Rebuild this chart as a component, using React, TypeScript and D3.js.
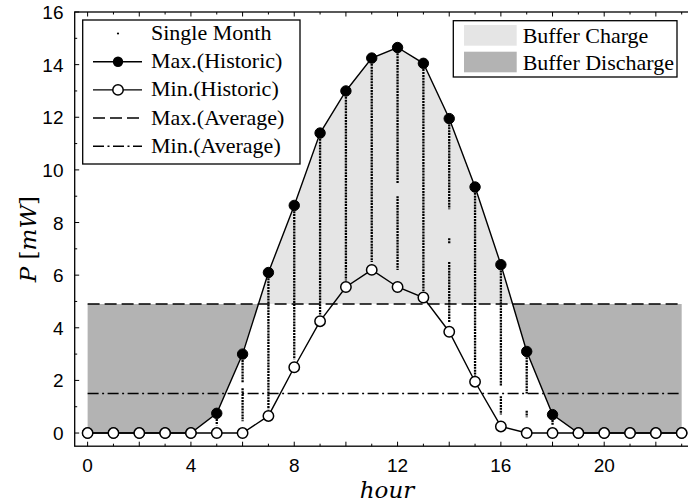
import React from 'react';
import * as d3 from 'd3';

// Hour of day (x categories)
const hours = [0, 1, 2, 3, 4, 5, 6, 7, 8, 9, 10, 11, 12, 13, 14, 15, 16, 17, 18, 19, 20, 21, 22, 23];
// Historic extremes of harvested power, mW
const maxHistoric = [0, 0, 0, 0, 0, 0.75, 3.0, 6.1, 8.65, 11.4, 13.0, 14.25, 14.65, 14.05, 11.95, 9.35, 6.4, 3.1, 0.7, 0, 0, 0, 0, 0];
const minHistoric = [0, 0, 0, 0, 0, 0, 0, 0.65, 2.5, 4.25, 5.55, 6.2, 5.55, 5.15, 3.85, 1.95, 0.25, 0, 0, 0, 0, 0, 0, 0];
// Average levels, mW
const maxAverage = 4.9;
const minAverage = 1.5;
// Single-month samples: hour and the value runs where monthly samples fall
const monthHours = [5, 6, 7, 8, 9, 10, 11, 12, 13, 14, 15, 16, 17, 18];
const monthRuns: number[][][] = [
  [[0.3, 0.75]],
  [[0.45, 1.7], [1.9, 3.0]],
  [[0.9, 6.1]],
  [[2.8, 8.65]],
  [[4.5, 11.4]],
  [[5.8, 13.0]],
  [[6.5, 14.25]],
  [[6.2, 9.0], [9.5, 14.65]],
  [[5.4, 14.05]],
  [[4.2, 6.5], [7.2, 7.4], [8.5, 11.95]],
  [[2.1, 9.35]],
  [[0.7, 1.4], [1.8, 6.4]],
  [[0.6, 0.85], [1.5, 3.1]],
  [[0.3, 0.5]],
];
const xTickLabels = [0, 4, 8, 12, 16, 20];
const xTicks = [0, 1, 2, 3, 4, 5, 6, 7, 8, 9, 10, 11, 12, 13, 14, 15, 16, 17, 18, 19, 20, 21, 22, 23];
const yTickLabels = [0, 2, 4, 6, 8, 10, 12, 14, 16];
const yTicks = [0, 1, 2, 3, 4, 5, 6, 7, 8, 9, 10, 11, 12, 13, 14, 15, 16];

const W = 688;
const H = 504;
const left = 74.7;
const right = 694.6;
const top = 12;
const bottom = 446.2;

const x = d3.scaleLinear().domain([-0.5, 23.5]).range([left, right]);
const y = d3.scaleLinear().domain([-0.5, 16]).range([bottom, top]);

const CHARGE = '#e5e5e5';
const DISCHARGE = '#b3b3b3';
const serif = '"Liberation Serif", "Times New Roman", serif';
const sans = '"Liberation Sans", Arial, sans-serif';

export default function App() {
  const bufferArea = d3
    .area<number>()
    .x((_, i) => x(hours[i]))
    .y0(() => y(maxAverage))
    .y1((d) => y(d))(maxHistoric) as string;

  const lineGen = d3
    .line<number>()
    .x((_, i) => x(hours[i]))
    .y((d) => y(d));

  const legendRows = [40, 68.2, 96.4, 124.6, 152.8];
  const lx0 = 93;
  const lx1 = 142;
  const lxm = 118;
  const ltext = 151;

  return (
    <svg width={W} height={H} style={{ position: 'absolute', left: 0, top: 0 }}>
      <defs>
        <clipPath id="above">
          <rect x={left} y={top} width={right - left} height={y(maxAverage) - top} />
        </clipPath>
        <clipPath id="below">
          <rect x={left} y={y(maxAverage)} width={right - left} height={bottom - y(maxAverage)} />
        </clipPath>
      </defs>
      <rect x={0} y={0} width={W} height={H} fill="#fff" />

      {/* buffer regions */}
      <path d={bufferArea} fill={CHARGE} clipPath="url(#above)" />
      <path d={bufferArea} fill={DISCHARGE} clipPath="url(#below)" />

      {/* average levels */}
      <line x1={x(0)} x2={x(23)} y1={y(maxAverage)} y2={y(maxAverage)} stroke="#000" strokeWidth={1.5} strokeDasharray="12 5" />
      <line x1={x(0)} x2={x(23)} y1={y(minAverage)} y2={y(minAverage)} stroke="#000" strokeWidth={1.5} strokeDasharray="11 3.5 2 3.5" />

      {/* single-month samples */}
      {monthHours.map((h, i) =>
        monthRuns[i].map((r, j) => (
          <line
            key={`${h}-${j}`}
            x1={x(h)}
            x2={x(h)}
            y1={y(r[1])}
            y2={y(r[0])}
            stroke="#000"
            strokeWidth={2.3}
            strokeDasharray="2 0.9"
          />
        ))
      )}

      {/* historic curves */}
      <path d={lineGen(maxHistoric) as string} fill="none" stroke="#000" strokeWidth={1.4} />
      <path d={lineGen(minHistoric) as string} fill="none" stroke="#000" strokeWidth={1.4} />
      {maxHistoric.map((v, i) => (
        <circle key={`mx${i}`} cx={x(hours[i])} cy={y(v)} r={5.2} fill="#000" stroke="#000" strokeWidth={1} />
      ))}
      {minHistoric.map((v, i) => (
        <circle key={`mn${i}`} cx={x(hours[i])} cy={y(v)} r={5.2} fill="#fff" stroke="#000" strokeWidth={1.5} />
      ))}

      {/* frame */}
      <rect x={left} y={top} width={right - left} height={bottom - top} fill="none" stroke="#000" strokeWidth={1.3} />

      {/* ticks */}
      {xTicks.map((t) => {
        const len = t % 2 === 0 ? 4.5 : 2.5;
        return (
          <g key={`xt${t}`}>
            <line x1={x(t)} x2={x(t)} y1={bottom} y2={bottom - len} stroke="#000" strokeWidth={1} />
            <line x1={x(t)} x2={x(t)} y1={top} y2={top + len} stroke="#000" strokeWidth={1} />
          </g>
        );
      })}
      {yTicks.map((t) => {
        const len = t % 2 === 0 ? 4.5 : 2.5;
        return (
          <g key={`yt${t}`}>
            <line x1={left} x2={left + len} y1={y(t)} y2={y(t)} stroke="#000" strokeWidth={1} />
            <line x1={right} x2={right - len} y1={y(t)} y2={y(t)} stroke="#000" strokeWidth={1} />
          </g>
        );
      })}

      {/* tick labels */}
      {xTickLabels.map((t) => (
        <text key={`xl${t}`} x={x(t)} y={471.5} textAnchor="middle" fontFamily={sans} fontSize={19}>
          {t}
        </text>
      ))}
      {yTickLabels.map((t) => (
        <text key={`yl${t}`} x={63.5} y={y(t) + 7} textAnchor="end" fontFamily={sans} fontSize={19}>
          {t}
        </text>
      ))}

      {/* axis titles */}
      <text x={387} y={498} textAnchor="middle" fontFamily='"DejaVu Serif", serif' fontStyle="italic" fontSize={23}>
        hour
      </text>
      <text
        transform={`translate(36, ${(top + bottom) / 2 + 10}) rotate(-90)`}
        textAnchor="middle"
        fontFamily='"DejaVu Serif", serif'
        fontSize={23}
      >
        <tspan fontStyle="italic">P</tspan>
        <tspan> [</tspan>
        <tspan fontStyle="italic">mW</tspan>
        <tspan>]</tspan>
      </text>

      {/* series legend */}
      <rect x={82.7} y={20} width={217.3} height={144} fill="#fff" stroke="#000" strokeWidth={1.3} />
      <circle cx={lxm} cy={legendRows[0] - 6.5} r={1.1} fill="#000" />
      <text x={ltext} y={legendRows[0]} fontFamily={serif} fontSize={22}>Single Month</text>

      <line x1={lx0} x2={lx1} y1={legendRows[1] - 6.5} y2={legendRows[1] - 6.5} stroke="#000" strokeWidth={1.4} />
      <circle cx={lxm} cy={legendRows[1] - 6.5} r={5.2} fill="#000" />
      <text x={ltext} y={legendRows[1]} fontFamily={serif} fontSize={22}>Max.(Historic)</text>

      <line x1={lx0} x2={lx1} y1={legendRows[2] - 6.5} y2={legendRows[2] - 6.5} stroke="#000" strokeWidth={1.4} />
      <circle cx={lxm} cy={legendRows[2] - 6.5} r={5.2} fill="#fff" stroke="#000" strokeWidth={1.5} />
      <text x={ltext} y={legendRows[2]} fontFamily={serif} fontSize={22}>Min.(Historic)</text>

      <line x1={lx0} x2={lx1} y1={legendRows[3] - 6.5} y2={legendRows[3] - 6.5} stroke="#000" strokeWidth={1.5} strokeDasharray="12 5" />
      <text x={ltext} y={legendRows[3]} fontFamily={serif} fontSize={22}>Max.(Average)</text>

      <line x1={lx0} x2={lx1} y1={legendRows[4] - 6.5} y2={legendRows[4] - 6.5} stroke="#000" strokeWidth={1.5} strokeDasharray="11 3.5 2 3.5" />
      <text x={ltext} y={legendRows[4]} fontFamily={serif} fontSize={22}>Min.(Average)</text>

      {/* buffer legend */}
      <rect x={453.3} y={20.7} width={223.7} height={56.3} fill="#fff" stroke="#000" strokeWidth={1.3} />
      <rect x={464} y={25} width={52.7} height={20.7} fill={CHARGE} />
      <text x={522.7} y={43.3} fontFamily={serif} fontSize={22}>Buffer Charge</text>
      <rect x={464} y={51.7} width={52.7} height={20.6} fill={DISCHARGE} />
      <text x={522.7} y={69.5} fontFamily={serif} fontSize={22}>Buffer Discharge</text>
    </svg>
  );
}
